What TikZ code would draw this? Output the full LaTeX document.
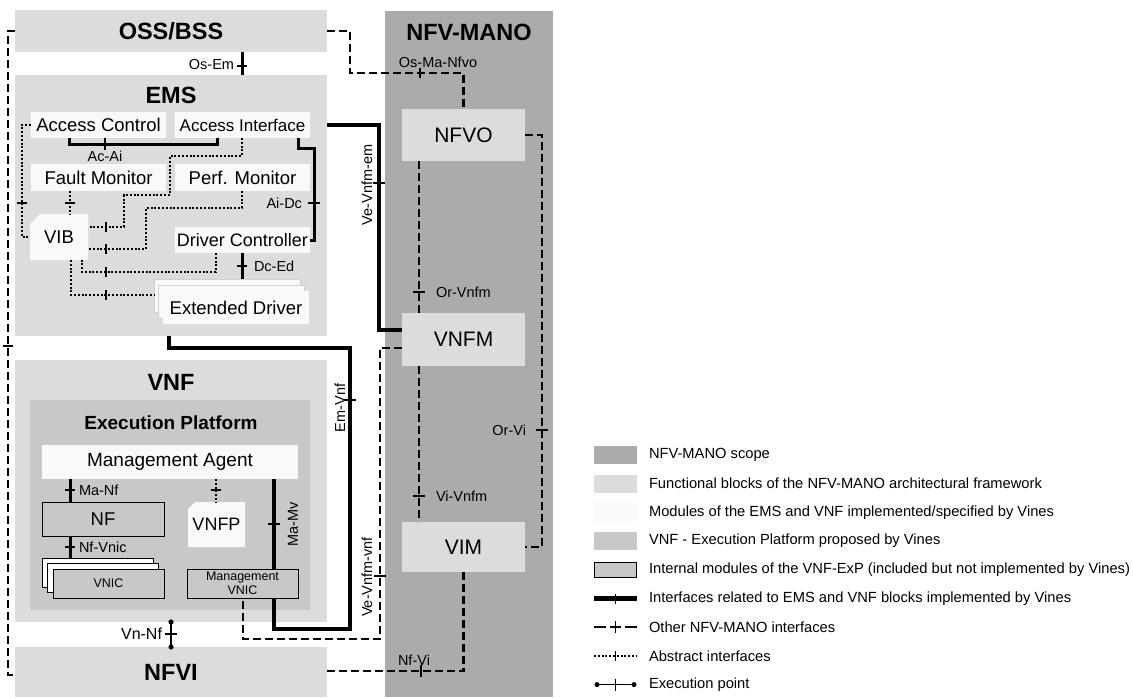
\documentclass[tikz,border=0pt]{standalone}
\usepackage{fontspec}
\setmainfont{Liberation Sans}
\usetikzlibrary{calc}
\definecolor{lg}{HTML}{DCDCDC}
\definecolor{manoc}{HTML}{ABABAB}
\definecolor{expc}{HTML}{C8C8C8}
\definecolor{modw}{HTML}{F9F9F9}
\newcommand{\fsz}[1]{\fontsize{#1}{#1}\selectfont}
\begin{document}
\begin{tikzpicture}[x=1pt,y=-1pt,
  every node/.style={inner sep=0pt, outer sep=0pt},
  blk/.style={rectangle, fill=lg},
  ttl/.style={font=\fsz{23.5}\bfseries},
  modbox/.style={rectangle, fill=modw, font=\fsz{18.5}},
  inm/.style={rectangle, fill=expc, draw=black, line width=0.8pt},
  lbl/.style={font=\fsz{14.5}},
  leg/.style={font=\fsz{14.7}},
  thk/.style={line width=3.8pt},
  thm/.style={line width=3pt},
  dsh/.style={line width=2.1pt, dash pattern=on 8pt off 4pt},
  dotl/.style={line width=2pt, dash pattern=on 2pt off 1.8pt},
  tk/.style={line width=1.5pt},
  tkt/.style={line width=2.2pt},
]
\useasboundingbox (0,0) rectangle (1133,697);

% ---------- containers ----------
\node[blk, ttl, minimum width=312, minimum height=42] (oss) at (171,31) {OSS/BSS};
\node[blk, minimum width=312, minimum height=261] (ems) at (171,205.5) {};
\node[ttl] (emst) at (171,95) {EMS};
\node[blk, minimum width=312, minimum height=262] (vnf) at (171,491) {};
\node[ttl] (vnft) at (171,382) {VNF};
\node[blk, ttl, minimum width=312, minimum height=50] (nfvi) at (171,672) {NFVI};
\node[fill=manoc, minimum width=168, minimum height=686] (mano) at (469,354) {};
\node[ttl] (manot) at (469,32) {NFV-MANO};

% ---------- MANO blocks ----------
\node[blk, font=\fsz{21}, minimum width=123, minimum height=52] (nfvo) at (463.5,135) {NFVO};
\node[blk, font=\fsz{21}, minimum width=123, minimum height=53] (vnfm) at (463.5,339.5) {VNFM};
\node[blk, font=\fsz{21}, minimum width=123, minimum height=50] (vim) at (463.5,547) {VIM};

% ---------- EMS modules ----------
\node[modbox, minimum width=135, minimum height=26] (ac) at (98.5,125) {Access Control};
\node[modbox, font=\fsz{17}, minimum width=135, minimum height=26] (ai) at (242.5,125) {Access Interface};
\node[modbox, minimum width=135, minimum height=27] (fm) at (98.5,177.5) {Fault Monitor};
\node[modbox, minimum width=135, minimum height=27] (pm) at (242.5,177.5) {Perf. Monitor};
\node[modbox, font=\fsz{18}, minimum width=135, minimum height=26] (dc) at (242.5,240) {Driver Controller};
\fill[modw] (30,224) -- (40,214) -- (88,214) -- (88,260) -- (30,260) -- cycle;
\node[font=\fsz{18.5}, minimum width=58, minimum height=46] (vib) at (59,237) {VIB};
\node[rectangle, fill=modw, draw=black!18, line width=0.6pt, minimum width=146, minimum height=33] (edb) at (227,295.5) {};
\node[rectangle, fill=modw, draw=black!18, line width=0.6pt, minimum width=146, minimum height=33] (edm) at (231.5,301.5) {};
\node[modbox, minimum width=146, minimum height=33] (ed) at (236,307.5) {Extended Driver};

% ---------- VNF internals ----------
\node[fill=expc, minimum width=280, minimum height=210] (exp) at (170,505) {};
\node[font=\fsz{19}\bfseries] (expt) at (171,423) {Execution Platform};
\node[rectangle, fill=modw, font=\fsz{19}, minimum width=256, minimum height=34] (ma) at (170,462) {Management Agent};
\node[inm, font=\fsz{18.5}, minimum width=122, minimum height=34] (nf) at (103,519) {NF};
\fill[modw] (188,509) -- (195,502) -- (245,502) -- (245,547) -- (188,547) -- cycle;
\node[font=\fsz{18}, minimum width=57, minimum height=45] (vnfp) at (216.5,524.5) {VNFP};
\node[rectangle, fill=white, draw=black, line width=0.8pt, minimum width=111, minimum height=29] (vnicb) at (97.5,572.5) {};
\node[rectangle, fill=white, draw=black, line width=0.8pt, minimum width=111, minimum height=29] (vnicm) at (103,578) {};
\node[inm, font=\fsz{12.5}, minimum width=111, minimum height=29] (vnic) at (108.5,583.5) {VNIC};

% Em-Vnf / Ma-Mv (under Management VNIC)
\draw[thk] (ems.south -| 169,0) |- (350,348) |- (274,629) -- (ma.south -| 274,0);
\draw[tk] (350,400) +(-6,0) -- +(6,0);
\draw[tk] (274,524) +(-6,0) -- +(6,0);
\node[lbl, rotate=90] (lemvnf) at (340,408) {Em-Vnf};
\node[lbl, rotate=90] (lmamv) at (293,524) {Ma-Mv};

\node[inm, font=\fontsize{12.5}{14}\selectfont, align=center, minimum width=111, minimum height=29] (mvnic) at (242.5,583.5) {Management\\VNIC};

% ---------- interfaces ----------
% Os-Em
\draw[thm] (oss.south -| 242,0) -- (ems.north -| 242,0);
\draw[tkt] (242,66) +(-5,0) -- +(5,0);
\node[lbl, anchor=east] (losem) at (234,65) {Os-Em};

% Os-Ma-Nfvo
\draw[dsh] (oss.east) -| (350,73) -| (nfvo.north);
\draw[tk] (420,73) +(0,-5) -- +(0,5);
\node[lbl] (losma) at (438,62) {Os-Ma-Nfvo};

% OSS/BSS - NFVI left
\draw[dsh] (oss.west) -| (8,675) -- (nfvi.west |- 8,675);
\draw[tk] (8,346) +(-5,0) -- +(5,0);

% Ve-Vnfm-em
\draw[thk] (ems.east |- ai.east) -| (379,330) -- (vnfm.west |- 379,330);
\draw[tk] (379,183) +(-6,0) -- +(6,0);
\node[lbl, rotate=90] (lvem) at (367,185) {Ve-Vnfm-em};

% Or-Vnfm
\draw[dsh] (nfvo.south -| 419,0) -- (vnfm.north -| 419,0);
\draw[tk] (419,292) +(-6,0) -- +(6,0);
\node[lbl, anchor=west] (lorvnfm) at (436,292) {Or-Vnfm};

% Or-Vi
\draw[dsh] (nfvo.east) -| (542,547) -- (vim.east);
\draw[tk] (542,430) +(-6,0) -- +(6,0);
\node[lbl, anchor=east] (lorvi) at (526,430) {Or-Vi};

% Vi-Vnfm
\draw[dsh] (vnfm.south -| 419,0) -- (vim.north -| 419,0);
\draw[tk] (419,496) +(-6,0) -- +(6,0);
\node[lbl, anchor=west] (lvivnfm) at (436,496) {Vi-Vnfm};

% Nf-Vi
\draw[dsh] (vim.south) |- (nfvi.east |- 0,671);
\draw[tk] (421,671) +(0,-6) -- +(0,6);
\node[lbl] (lnfvi) at (414,660) {Nf-Vi};

% Ve-Vnfm-vnf
\draw[dsh] (vnfm.west |- 0,348) -| (380,639) -| (mvnic.south -| 243,0);
\draw[tk] (380,576) +(-6,0) -- +(6,0);
\node[lbl, rotate=90] (lvevnf) at (367,577) {Ve-Vnfm-vnf};

% Ma-Nf, Nf-Vnic
\draw[thm] (ma.south -| 70,0) -- (nf.north -| 70,0);
\draw[tkt] (70,490) +(-5,0) -- +(5,0);
\node[lbl, anchor=west] (lmanf) at (79,490) {Ma-Nf};
\draw[thm] (nf.south -| 70,0) -- (vnicb.north -| 70,0);
\draw[tkt] (70,547) +(-5,0) -- +(5,0);
\node[lbl, anchor=west] (lnfvnic) at (79,547) {Nf-Vnic};

% MA - VNFP
\draw[dotl] (ma.south -| 216,0) -- (vnfp.north -| 216,0);
\draw[line width=1.1pt] (216,490) +(-5,0) -- +(5,0);

% Vn-Nf execution point
\draw[line width=1.5pt] (vnf.south -| 171,0) -- (nfvi.north -| 171,0);
\fill (171,622) circle[radius=2.6pt];
\fill (171,647) circle[radius=2.6pt];
\draw[tk] (171,634) +(-6,0) -- +(6,0);
\node[font=\fsz{16}, anchor=east] (lvnnf) at (162,634) {Vn-Nf};

% Ac-Ai
\draw[thm] (ac.south -| 69,0) |- (217,144) -- (ai.south -| 217,0);
\draw[tk] (105,144) +(0,-6) -- +(0,6);
\node[lbl] (lacai) at (105,156) {Ac-Ai};

% Ai-Dc
\draw[thm] (ai.south -| 298,0) |- (314,148) |- (dc.east);
\draw[tk] (314,203) +(-6,0) -- +(6,0);
\node[lbl, anchor=east] (laidc) at (302,203) {Ai-Dc};

% Dc-Ed
\draw[thm] (dc.south -| 242,0) -- (edb.north -| 242,0);
\draw[tkt] (242,266) +(-5,0) -- +(5,0);
\node[lbl, anchor=west] (ldced) at (254,266) {Dc-Ed};

% abstract interfaces around VIB
\draw[dotl] (ac.west) -| (22,237) -- (vib.west |- 0,237);
\draw[line width=1.1pt] (22,203) +(-5,0) -- +(5,0);
\draw[dotl] (fm.south -| 70,0) -- (vib.north -| 70,0);
\draw[line width=1.1pt] (70,203) +(-5,0) -- +(5,0);
\draw[dotl] (ai.south -| 242,0) |- (170,156) |- (124,195) |- (vib.east |- 0,227);
\draw[line width=1.1pt] (106,227) +(0,-5) -- +(0,5);
\draw[dotl] (pm.south -| 242,0) |- (146,208) |- (vib.east |- 0,249);
\draw[line width=1.1pt] (106,249) +(0,-5) -- +(0,5);
\draw[dotl] (dc.south -| 216,0) |- (82,272) -- (vib.south -| 82,0);
\draw[line width=1.1pt] (106,272) +(0,-5) -- +(0,5);
\draw[dotl] (vib.south -| 71,0) |- (edb.west |- 0,295);
\draw[line width=1.1pt] (106,295) +(0,-5) -- +(0,5);

% ---------- legend ----------
\node[fill=manoc, minimum width=43, minimum height=18] (sw1) at (615.5,455) {};
\node[leg, anchor=west] (lt1) at (649,455) {NFV-MANO scope};
\node[fill=lg, minimum width=43, minimum height=18] (sw2) at (615.5,483.7) {};
\node[leg, anchor=west] (lt2) at (649,483.7) {Functional blocks of the NFV-MANO architectural framework};
\node[fill=modw, minimum width=43, minimum height=18] (sw3) at (615.5,512.4) {};
\node[leg, anchor=west] (lt3) at (649,512.4) {Modules of the EMS and VNF implemented/specified by Vines};
\node[fill=expc, minimum width=43, minimum height=18] (sw4) at (615.5,541.1) {};
\node[leg, anchor=west] (lt4) at (649,541.1) {VNF - Execution Platform proposed by Vines};
\node[inm, minimum width=42, minimum height=15] (sw5) at (615.5,569.8) {};
\node[leg, anchor=west] (lt5) at (649,569.8) {Internal modules of the VNF-ExP (included but not implemented by Vines)};
\coordinate (l6a) at (594,598.5); \coordinate (l6b) at (637,598.5);
\draw[line width=4.5pt] (l6a) -- (l6b);
\draw[line width=1.1pt] (615.5,598.5) +(0,-5) -- +(0,5);
\node[leg, anchor=west] (lt6) at (649,598.5) {Interfaces related to EMS and VNF blocks implemented by Vines};
\coordinate (l7a) at (594,627.2); \coordinate (l7b) at (637,627.2);
\draw[line width=2pt] (l7a) -- ++(12,0);
\draw[line width=2pt] (610,627.2) -- (621,627.2);
\draw[line width=2pt] (l7b) -- ++(-12,0);
\draw[line width=1.4pt] (615.5,627.2) +(0,-6) -- +(0,6);
\node[leg, anchor=west] (lt7) at (649,627.2) {Other NFV-MANO interfaces};
\coordinate (l8a) at (594,655.9); \coordinate (l8b) at (637,655.9);
\draw[dotl] (l8a) -- (l8b);
\draw[line width=1.1pt] (615.5,655.9) +(0,-5) -- +(0,5);
\node[leg, anchor=west] (lt8) at (649,655.9) {Abstract interfaces};
\coordinate (l9a) at (597,684.6); \coordinate (l9b) at (634,684.6);
\draw[line width=1.5pt] (l9a) -- (l9b);
\fill (l9a) circle[radius=2.5pt];
\fill (l9b) circle[radius=2.5pt];
\draw[line width=1.4pt] (615.5,684.6) +(0,-6) -- +(0,6);
\node[leg, anchor=west] (lt9) at (649,684.6) {Execution point};
\end{tikzpicture}
\end{document}
